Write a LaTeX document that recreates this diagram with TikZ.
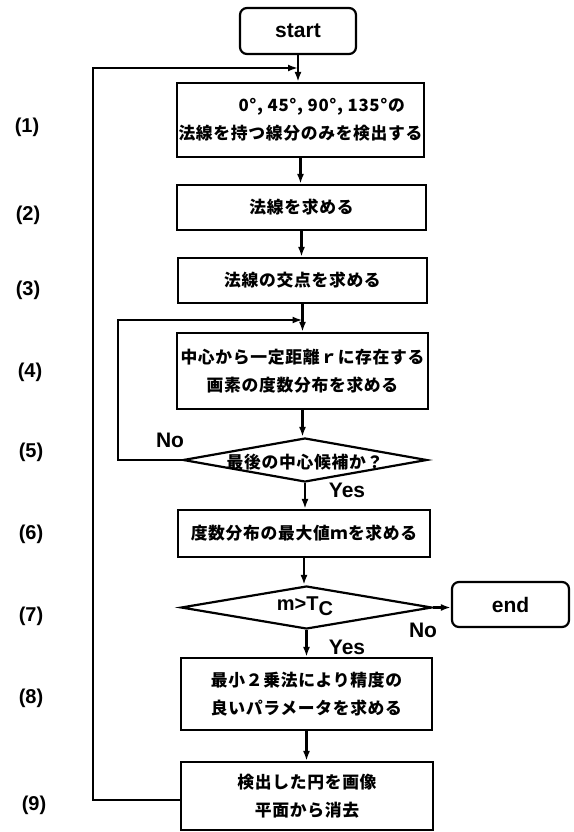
\documentclass[tikz,border=0pt]{standalone}
\usepackage{fontspec}
\newfontfamily\jp{Noto Sans CJK JP}[LetterSpace=4]
\newfontfamily\hv{Liberation Sans}
\usetikzlibrary{arrows.meta,shapes.geometric}
\begin{document}
\begin{tikzpicture}[x=1pt,y=-1pt,
  term/.style={draw, rounded corners=7pt, line width=2.2pt, inner sep=0pt,
    font=\hv\bfseries\fontsize{21}{21}\selectfont},
  proc/.style={draw, line width=2.2pt, inner sep=0pt, align=center,
    font=\jp\bfseries\fontsize{16.8}{28}\selectfont},
  dec/.style={draw, diamond, line width=2.2pt, inner sep=0pt},
  jptext/.style={font=\jp\bfseries\fontsize{16.8}{28}\selectfont, inner sep=0pt},
  lab/.style={font=\hv\bfseries\fontsize{21}{21}\selectfont, inner sep=0pt},
  num/.style={font=\hv\bfseries\fontsize{20}{20}\selectfont, inner sep=0pt},
  arr/.style={line width=2.2pt, -{Latex[length=10pt,width=7pt]}}
]
\useasboundingbox (0,0) rectangle (573,832);

% terminals
\node[term, minimum width=116pt, minimum height=46pt] (start) at (298,31) {start};
\node[term, minimum width=117pt, minimum height=45pt] (end) at (510.5,604.5) {end};

% process boxes
\node[proc, align=left, minimum width=247pt, minimum height=74pt] (b1) at (300.5,120)
  {\hspace*{60pt}0°, 45°, 90°, 135°の\\法線を持つ線分のみを検出する};
\node[proc, minimum width=249pt, minimum height=45pt] (b2) at (301.5,207.5) {法線を求める};
\node[proc, minimum width=249pt, minimum height=45pt] (b3) at (302.5,280.5) {法線の交点を求める};
\node[proc, minimum width=251pt, minimum height=76pt] (b4) at (302.5,371)
  {中心から一定距離ｒに存在する\\画素の度数分布を求める};
\node[dec, minimum width=244pt, minimum height=44pt] (d5) at (305,460) {};
\node[jptext] (d5t) at (305,462) {最後の中心候補か？};
\node[proc, minimum width=252pt, minimum height=47pt] (b6) at (304,533.5) {度数分布の最大値ｍを求める};
\node[dec, minimum width=251pt, minimum height=43pt] (d7) at (306.5,607.5) {};
\node[font=\hv\bfseries\fontsize{20}{20}\selectfont, inner sep=0pt] (d7t) at (305,606)
  {m>T\raisebox{-5pt}{C}};
\node[proc, minimum width=251pt, minimum height=72pt] (b8) at (306.5,694)
  {最小２乗法により精度の\\良いパラメータを求める};
\node[proc, minimum width=252pt, minimum height=68pt] (b9) at (307,796)
  {検出した円を画像\\平面から消去};

% branch labels
\node[lab] (no5) at (170,440) {No};
\node[lab] (yes5) at (347,490) {Yes};
\node[lab] (no7) at (423,630) {No};
\node[lab] (yes7) at (347,647) {Yes};

% step numbers
\node[num] (n1) at (27,127) {(1)};
\node[num] (n2) at (28,215) {(2)};
\node[num] (n3) at (28,290) {(3)};
\node[num] (n4) at (30,372) {(4)};
\node[num] (n5) at (31,452) {(5)};
\node[num] (n6) at (31,534) {(6)};
\node[num] (n7) at (31,616) {(7)};
\node[num] (n8) at (31,698) {(8)};
\node[num] (n9) at (34,805) {(9)};

% main flow
\draw[arr] (start.south) -- (start.south |- b1.north);
\draw[arr] (b1.south) -- (b1.south |- b2.north);
\draw[arr] (b2.south) -- (b2.south |- b3.north);
\draw[arr] (b3.south) -- (b3.south |- b4.north);
\draw[arr] (b4.south) -- (b4.south |- d5.north);
\draw[arr] (d5.south) -- (d5.south |- b6.north);
\draw[arr] (b6.south) -- (b6.south |- d7.north);
\draw[arr] (d7.south) -- (d7.south |- b8.north);
\draw[arr] (b8.south) -- (b8.south |- b9.north);
\draw[arr] (d7.east) -- (d7.east -| end.west);

% loops
\coordinate (ilc) at (118,320);
\draw[arr] (d5.west) -| (ilc) -- (b3.south |- ilc);
\coordinate (olc) at (93,68);
\draw[arr] ([yshift=-4pt]b9.west) -| (olc) -- (start.south |- olc);
\end{tikzpicture}
\end{document}
